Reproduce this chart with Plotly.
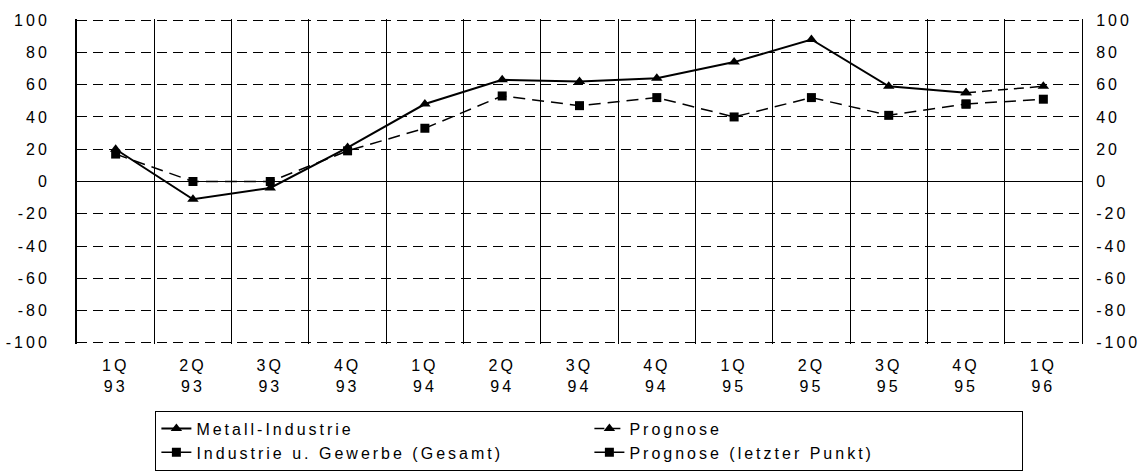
import plotly.graph_objects as go

quarters = ["1Q<br>93", "2Q<br>93", "3Q<br>93", "4Q<br>93", "1Q<br>94", "2Q<br>94", "3Q<br>94",
            "4Q<br>94", "1Q<br>95", "2Q<br>95", "3Q<br>95", "4Q<br>95", "1Q<br>96"]
metall = [20, -11, -4, 21, 48, 63, 62, 64, 74, 88, 59, 55, None]
metall_prognose = [None] * 11 + [55, 59]
gesamt = [17, 0, 0, 19, 33, 53, 47, 52, 40, 52, 41, 48, None]
gesamt_prognose = [None] * 11 + [48, 51]
y_ticks = [-100, -80, -60, -40, -20, 0, 20, 40, 60, 80, 100]
y_tick_labels = ["-100", "-80", "-60", "-40", "-20", "0", "20", "40", "60", "80", "100"]

FONT = "Arial, Liberation Sans, sans-serif"

fig = go.Figure()
fig.add_trace(go.Scatter(x=quarters, y=metall, name="Metall-Industrie", mode="lines+markers",
                         line=dict(color="black", width=2),
                         marker=dict(symbol="triangle-up", size=10, color="black")))
fig.add_trace(go.Scatter(x=quarters, y=metall_prognose, name="Prognose", mode="lines+markers",
                         line=dict(color="black", width=1.5, dash="10px,6px"),
                         marker=dict(symbol="triangle-up", size=10, color="black")))
fig.add_trace(go.Scatter(x=quarters, y=gesamt, name="Industrie u. Gewerbe (Gesamt)", mode="lines+markers",
                         line=dict(color="black", width=1.5, dash="12px,7px"),
                         marker=dict(symbol="square", size=9, color="black")))
fig.add_trace(go.Scatter(x=quarters, y=gesamt_prognose, name="Prognose (letzter Punkt)", mode="lines+markers",
                         line=dict(color="black", width=1.5, dash="12px,7px"),
                         marker=dict(symbol="square", size=9, color="black")))
# transparent copy on the right axis so that the mirrored scale is drawn
fig.add_trace(go.Scatter(x=quarters, y=metall, yaxis="y2", mode="lines", showlegend=False,
                         hoverinfo="skip", line=dict(color="rgba(0,0,0,0)", width=0)))

fig.update_layout(
    width=1146, height=473,
    margin=dict(l=77, r=64, t=19, b=129, autoexpand=False),
    paper_bgcolor="white", plot_bgcolor="white",
    font=dict(family=FONT, size=16, color="black"),
    showlegend=True,
    legend=dict(orientation="h", x=0.078, xanchor="left", xref="paper",
                y=0.132, yanchor="top", yref="container",
                bordercolor="black", borderwidth=1, bgcolor="white",
                entrywidth=388, entrywidthmode="pixels", font=dict(size=16),
                traceorder="normal"),
    xaxis=dict(type="category", range=[-0.5, 12.5], tickson="boundaries", showgrid=True,
               gridcolor="black", gridwidth=1, ticks="", showline=False, zeroline=False,
               ticklabelstandoff=10, tickfont=dict(size=16)),
    yaxis=dict(range=[-100.7, 100.7], tickvals=y_ticks, ticktext=y_tick_labels, showgrid=True,
               gridcolor="black", gridwidth=1, griddash="10px,6px", zeroline=True,
               zerolinecolor="black", zerolinewidth=1.2, showline=True, linecolor="black",
               linewidth=2, ticks="", ticklabelstandoff=22, tickfont=dict(size=16)),
    yaxis2=dict(range=[-100.7, 100.7], tickvals=y_ticks, ticktext=y_tick_labels, overlaying="y",
                side="right", showgrid=False, zeroline=False, showline=True, linecolor="black",
                linewidth=1, ticks="", ticklabelstandoff=10, tickfont=dict(size=16)),
)

post = """
var st = document.createElement('style');
st.textContent = 'svg text { letter-spacing: 3px !important; }';
document.head.appendChild(st);
"""
fig.write_html("out.html", post_script=post)
